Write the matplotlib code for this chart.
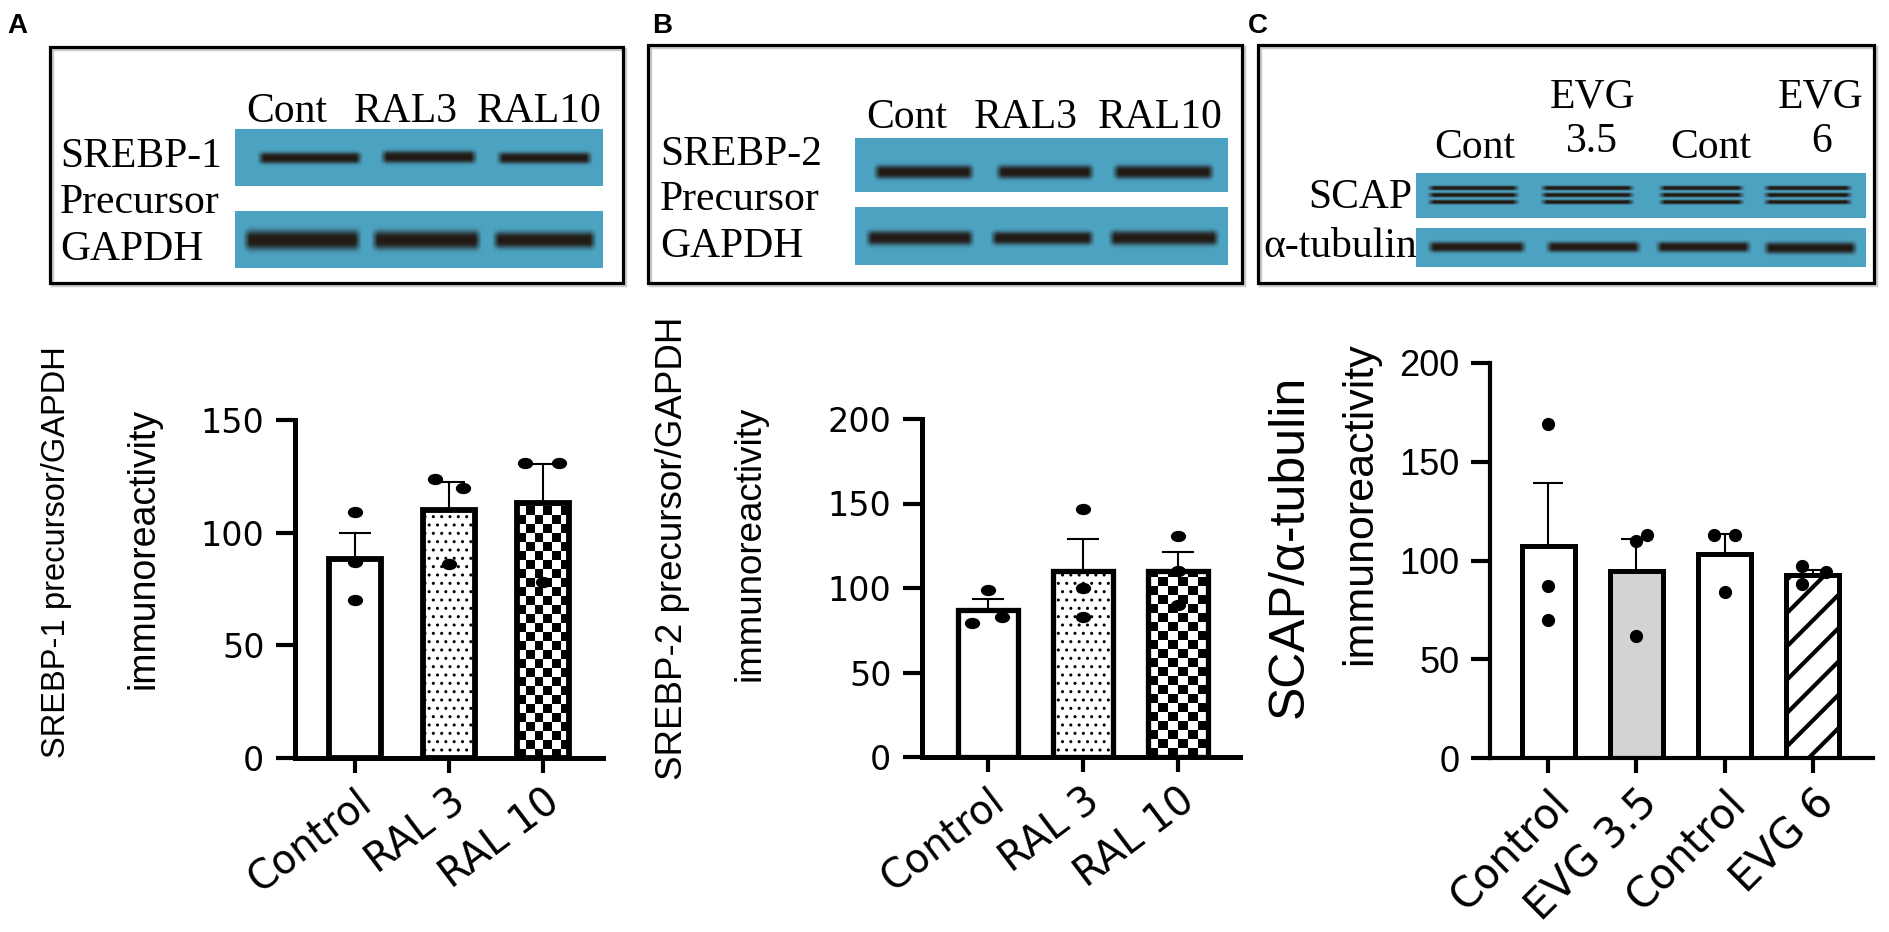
import numpy as np
import matplotlib
matplotlib.use("Agg")
import matplotlib.pyplot as plt
from matplotlib.path import Path
from matplotlib.transforms import Affine2D
from matplotlib.patches import Rectangle

# ---- data ----
# A: SREBP-1 precursor / GAPDH
a_groups = ["Control", "RAL 3", "RAL 10"]
a_mean = [88.5, 110, 113]
a_sem = [11.5, 12.5, 17.5]
a_points = [[109, 87, 70], [124, 120, 86], [131, 131, 78]]
a_jitter = [[0, 0, 0], [-0.15, 0.15, 0], [-0.19, 0.17, 0]]

# B: SREBP-2 precursor / GAPDH
b_groups = ["Control", "RAL 3", "RAL 10"]
b_mean = [87, 110, 110]
b_sem = [6.5, 19, 11.5]
b_points = [[99, 79, 83], [147, 100, 83], [131, 110, 90]]
b_jitter = [[0, -0.17, 0.15], [0, 0, 0], [0, 0, 0]]

# C: SCAP / alpha-tubulin
c_groups = ["Control", "EVG 3.5", "Control", "EVG 6"]
c_mean = [107.5, 94.5, 103.5, 92.5]
c_sem = [31.5, 16.5, 10, 2.5]
c_points = [[169, 87, 70], [113, 110, 62], [113, 113, 84], [97, 94, 88]]
c_jitter = [[0, 0, 0], [0.12, 0, 0], [-0.12, 0.12, 0], [-0.12, 0.15, -0.12]]

W, H = 1890, 932
SANS = "Liberation Sans"
SERIF = "Liberation Serif"
WIDE = "DejaVu Sans"

plt.rcParams["hatch.linewidth"] = 1.2

fig = plt.figure(figsize=(W / 100, H / 100), dpi=100)
bg = fig.add_axes([0, 0, 1, 1])
bg.set_xlim(0, W)
bg.set_ylim(H, 0)
bg.axis("off")


def rect(x0, y0, x1, y1):
    return [x0 / W, 1 - y1 / H, (x1 - x0) / W, (y1 - y0) / H]


# ---- western blot strips (decoration) ----
def blot(x0, y0, x1, y1, bands):
    w, h = x1 - x0, y1 - y0
    yy = np.arange(h)[:, None] + 0.5
    xx = np.arange(w)[None, :] + 0.5
    a = np.zeros((h, w))
    for bx0, bx1, yc, th in bands:
        py = np.exp(-np.abs((yy - (yc - y0)) / (th / 2.0)) ** 3)
        ramp = np.clip(np.minimum(xx - (bx0 - x0), (bx1 - x0) - xx) / 7.0, 0, 1)
        a = np.maximum(a, py * ramp)
    base = np.array([0.30, 0.64, 0.76])
    dark = np.array([0.13, 0.10, 0.08])
    img = base[None, None, :] * (1 - a[..., None]) + dark[None, None, :] * a[..., None]
    bg.imshow(img, extent=(x0, x1, y1, y0), aspect="auto", interpolation="bilinear", zorder=1)


# frames
for bx0, by0, bx1, by1 in [(50, 47, 623, 283), (648, 45, 1242, 283), (1258, 45, 1874, 283)]:
    bg.add_patch(Rectangle((bx0 + 2, by0 + 2), bx1 - bx0, by1 - by0, fill=False,
                           edgecolor="#cccccc", lw=2.5, zorder=0.5))
    bg.add_patch(Rectangle((bx0, by0), bx1 - bx0, by1 - by0, fill=False,
                           edgecolor="black", lw=2.3, zorder=2))

# A blot
blot(235, 129, 603, 186, [(257, 363, 158, 11), (380, 478, 157, 12), (496, 593, 158, 11)])
blot(235, 211, 603, 268, [(243, 362, 240, 19), (371, 482, 240, 18), (492, 597, 240, 16)])
# B blot
blot(855, 138, 1228, 192, [(873, 975, 172, 13), (995, 1095, 172, 13), (1112, 1215, 172, 13)])
blot(855, 207, 1228, 265, [(865, 975, 238, 14), (990, 1095, 238, 13), (1108, 1220, 238, 14)])
# C blot
scap = []
for lx0, lx1 in [(1427, 1520), (1540, 1635), (1658, 1745), (1763, 1853)]:
    for yc in (188, 195, 202):
        scap.append((lx0, lx1, yc, 4.5))
blot(1416, 173, 1866, 218, scap)
blot(1416, 228, 1866, 267, [(1427, 1527, 247, 10), (1545, 1642, 247, 10),
                            (1655, 1752, 247, 10), (1763, 1858, 248, 11)])

serif = dict(family=SERIF, fontsize=30, va="baseline", zorder=3)
for txt, cx in [("Cont", 287), ("RAL3", 406), ("RAL10", 539)]:
    bg.text(cx, 122, txt, ha="center", **serif)
for txt, cx in [("Cont", 907), ("RAL3", 1026), ("RAL10", 1160)]:
    bg.text(cx, 128, txt, ha="center", **serif)
for txt, yb in [("SREBP-1", 167), ("Precursor", 213), ("GAPDH", 260)]:
    bg.text(60, yb, txt, ha="left", **serif)
for txt, yb in [("SREBP-2", 165), ("Precursor", 210), ("GAPDH", 257)]:
    bg.text(660, yb, txt, ha="left", **serif)
for txt, cx, yb in [("Cont", 1475, 158), ("EVG", 1593, 107), ("3.5", 1592, 152),
                    ("Cont", 1711, 158), ("EVG", 1821, 107), ("6", 1822, 152)]:
    bg.text(cx, yb, txt, ha="center", **serif)
bg.text(1308, 208, "SCAP", ha="left", **serif)
bg.text(1263, 257, "\u03b1-tubulin", ha="left", **serif)

# panel letters
for txt, x in [("A", 7), ("B", 652), ("C", 1248)]:
    bg.text(x, 33, txt, family=SANS, fontsize=20, fontweight="bold", va="baseline")

# y labels
for txt, x, y, fs in [
    ("SREBP-1 precursor/GAPDH", 57, 552, 23.5),
    ("immunoreactivity", 143, 548, 27),
    ("SREBP-2 precursor/GAPDH", 672, 548, 26.5),
    ("immunoreactivity", 750, 543, 26.5),
    ("SCAP/\u03b1-tubulin", 1290, 546, 36),
    ("immunoreactivity", 1360, 504, 31),
]:
    bg.text(x, y, txt, rotation=90, ha="center", va="center", family=SANS, fontsize=fs)

# ---- bar charts ----
oval = Path.unit_circle().transformed(Affine2D().scale(1.4, 1.0))


def checker(ax, bar, nx=6, sq_px=9.0):
    ppu = ax.bbox.height / (ax.get_ylim()[1] - ax.get_ylim()[0])
    sq = sq_px / ppu
    x0, w, h = bar.get_x(), bar.get_width(), bar.get_height()
    ny = int(np.ceil(h / sq))
    iy, ix = np.indices((ny, nx))
    img = ((ix + iy) % 2).astype(float)
    im = ax.imshow(img, extent=(x0, x0 + w, 0, ny * sq), origin="lower", cmap="gray",
                   vmin=0, vmax=1, interpolation="nearest", aspect="auto", zorder=1.9)
    im.set_clip_path(bar)


def panel(ax, groups, mean, sem, pts, jit, fills, ymax, yticks, bw, xlim,
          spine_lw, bar_lw, marker, ms, tickfont, tickfs, xfs, xrot, cap):
    ax.patch.set_visible(False)
    ax.set_ylim(0, ymax)
    x = np.arange(len(groups))
    for i, f in enumerate(fills):
        face = {"white": "white", "gray": "#d3d3d3", "dots": "white",
                "hatch": "white", "checker": "none"}[f]
        hatch = {"dots": "..", "hatch": "/"}.get(f)
        b = ax.bar(x[i], mean[i], width=bw, facecolor=face, edgecolor="black",
                   linewidth=bar_lw, hatch=hatch, zorder=2)[0]
        if hatch:
            try:
                b.set_hatch_linewidth(3.0 if f == "hatch" else 1.0)
            except AttributeError:
                pass
        if f == "checker":
            checker(ax, b)
    ax.errorbar(x, mean, yerr=[np.zeros(len(sem)), sem], fmt="none", ecolor="black",
                elinewidth=1.5, capsize=cap, capthick=1.5, zorder=3)
    for i in range(len(groups)):
        ax.plot(x[i] + np.array(jit[i]), pts[i], linestyle="none", marker=marker,
                markersize=ms, color="black", zorder=4, clip_on=False)
    ax.set_xlim(*xlim)
    ax.set_ylim(0, ymax)
    for s in ("top", "right"):
        ax.spines[s].set_visible(False)
    for s in ("left", "bottom"):
        ax.spines[s].set_linewidth(spine_lw)
    ax.set_yticks(yticks)
    ax.set_yticklabels([str(t) for t in yticks], family=tickfont, fontsize=tickfs)
    ax.set_xticks(x)
    ax.set_xticklabels(groups, rotation=xrot, ha="right", va="top",
                       rotation_mode="anchor", family=WIDE, fontsize=xfs)
    ax.tick_params(axis="y", length=14, width=3, pad=8, direction="out")
    ax.tick_params(axis="x", length=11, width=3, pad=6, direction="out")


axA = fig.add_axes(rect(295, 420, 603, 758))
panel(axA, a_groups, a_mean, a_sem, a_points, a_jitter, ["white", "dots", "checker"],
      150, [0, 50, 100, 150], 0.56, (-0.638, 2.638), 3.6, 4.2, oval, 10,
      WIDE, 24, 28.5, 37, 11.5)

axB = fig.add_axes(rect(922, 419, 1240, 757))
panel(axB, b_groups, b_mean, b_sem, b_points, b_jitter, ["white", "dots", "checker"],
      200, [0, 50, 100, 150, 200], 0.63, (-0.695, 2.652), 3.6, 3.8, oval, 10,
      WIDE, 24, 28.5, 37, 11.5)

axC = fig.add_axes(rect(1490, 363, 1873, 758))
panel(axC, c_groups, c_mean, c_sem, c_points, c_jitter, ["white", "gray", "white", "hatch"],
      200, [0, 50, 100, 150, 200], 0.6, (-0.657, 3.68), 3.0, 3.6, "o", 8.5,
      SANS, 26, 30, 45, 11)

fig.savefig("out.png", dpi=100)
